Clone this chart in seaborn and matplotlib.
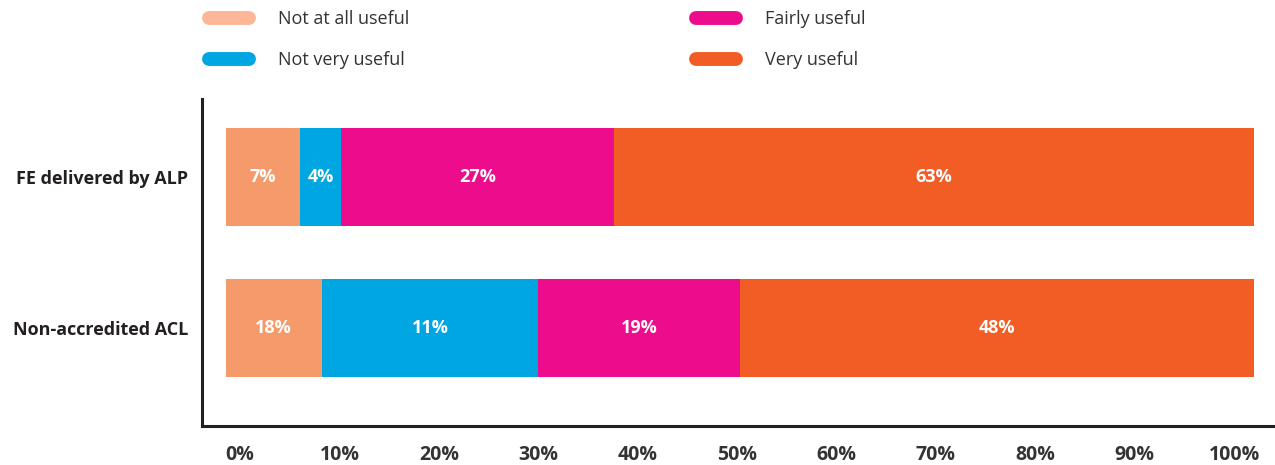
import matplotlib
matplotlib.use("Agg")
import matplotlib.pyplot as plt
from matplotlib.lines import Line2D
import seaborn as sns
import pandas as pd
import numpy as np

categories = ["FE delivered by ALP", "Non-accredited ACL"]
series = ["Not at all useful", "Not very useful", "Fairly useful", "Very useful"]
# segment widths as drawn (percent of bar)
not_at_all = [7.2, 9.3]
not_very = [4.0, 21.1]
fairly = [26.5, 19.6]
very = [62.3, 50.0]
# printed labels
label_not_at_all = ["7%", "18%"]
label_not_very = ["4%", "11%"]
label_fairly = ["27%", "19%"]
label_very = ["63%", "48%"]
tick_values = [0, 10, 20, 30, 40, 50, 60, 70, 80, 90, 100]
tick_labels = [f"{v}%" for v in tick_values]

bar_colors = ["#F59B6B", "#00A6E1", "#EC0C8C", "#F15D24"]
legend_colors = ["#FDB797", "#00A6E1", "#EC0C8C", "#F15D24"]

sns.set_theme(style="white")
plt.rcParams["font.family"] = ["Open Sans", "DejaVu Sans"]

fig = plt.figure(figsize=(12.75, 4.65), dpi=100)
ax = fig.add_axes([202 / 1275, 1 - 426 / 465, 1 - 202 / 1275, (426 - 99) / 465])

vals = [not_at_all, not_very, fairly, very]
labels = [label_not_at_all, label_not_very, label_fairly, label_very]
cum = np.cumsum(np.array(vals), axis=0)
df = pd.DataFrame({"category": categories})
for i in range(len(series) - 1, -1, -1):
    df["x"] = cum[i]
    sns.barplot(data=df, x="x", y="category", color=bar_colors[i], saturation=1,
                width=0.655, orient="h", ax=ax, linewidth=0)

for i in range(len(series)):
    for j in range(len(categories)):
        start = cum[i][j] - vals[i][j]
        ax.text(start + vals[i][j] / 2, j, labels[i][j], ha="center", va="center",
                color="white", fontsize=13, fontweight="bold")

ax.set_xlim(-2.33, 102.04)
ax.set_ylim(1.649, -0.517)
ax.set_xticks([])
ax.set_xlabel("")
ax.set_ylabel("")
for s in ["top", "right"]:
    ax.spines[s].set_visible(False)
for s in ["left", "bottom"]:
    ax.spines[s].set_color("#231F20")
    ax.spines[s].set_linewidth(2.2)
ax.tick_params(axis="both", length=0)
ax.tick_params(axis="y", pad=10, labelsize=13, labelcolor="#231F20")
for t in ax.get_yticklabels():
    t.set_fontweight("bold")

# percentage scale drawn as in the original (its own, slightly compressed axis)
sx = ax.twiny()
sx.set_xlim(-3.82, 104.1)
sx.xaxis.set_ticks_position("bottom")
sx.xaxis.set_label_position("bottom")
sx.set_xticks(tick_values)
sx.set_xticklabels(tick_labels)
for s in sx.spines.values():
    s.set_visible(False)
sx.tick_params(axis="x", length=0, pad=14, labelsize=14, labelcolor="#333333")
for t in sx.get_xticklabels():
    t.set_fontweight("bold")

handles = [Line2D([0], [0], color=c, lw=10, solid_capstyle="round") for c in legend_colors]
common = dict(loc="upper left", frameon=False, fontsize=13, handlelength=2.2,
              handletextpad=1.62, labelspacing=1.3, labelcolor="#333333",
              borderaxespad=0, borderpad=0)
fig.legend(handles[:2], series[:2], bbox_to_anchor=(209 / 1275, 1 - 10 / 465), **common)
fig.legend(handles[2:], series[2:], bbox_to_anchor=(696 / 1275, 1 - 10 / 465), **common)

fig.savefig("out.png", dpi=100)
